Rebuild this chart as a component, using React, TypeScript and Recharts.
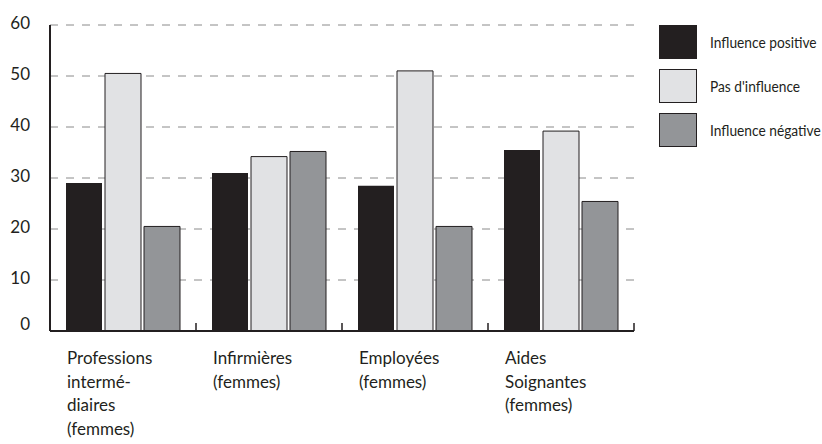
import React from 'react';
import { BarChart, Bar, XAxis, YAxis, CartesianGrid, Legend } from 'recharts';

const categories = [
  'Professions\nintermé-\ndiaires\n(femmes)',
  'Infirmières\n(femmes)',
  'Employées\n(femmes)',
  'Aides\nSoignantes\n(femmes)',
];
const influencePositive = [29, 31, 28.5, 35.5];
const pasInfluence = [50.5, 34.2, 51, 39.2];
const influenceNegative = [20.5, 35.2, 20.5, 25.4];
const yTicks = [0, 10, 20, 30, 40, 50, 60];
const seriesNames = ['Influence positive', "Pas d'influence", 'Influence négative'];
const seriesColors = ['#231f20', '#e1e2e4', '#939598'];

const data = categories.map((c, i) => ({
  cat: c,
  pos: influencePositive[i],
  pas: pasInfluence[i],
  neg: influenceNegative[i],
}));

const W = 822;
const H = 444;
const LEGEND_W = 165;
const PLOT_RIGHT = 188;
const M = { top: 25, right: PLOT_RIGHT - LEGEND_W, bottom: 3, left: 10 };
const Y_W = 40;
const X_H = 110;
const plotW = W - M.left - Y_W - PLOT_RIGHT;
const band = plotW / categories.length;
const FONT = "Lato, 'Open Sans', sans-serif";

const XTick = (props: any) => {
  const { x, y, payload } = props;
  const lines = String(payload.value).split('\n');
  const start = x - band / 2 + 17;
  const end = x + band / 2;
  return (
    <g>
      <line x1={end} y1={y - 8} x2={end} y2={y - 16} stroke="#231f20" strokeWidth={1.5} />
      <text x={start} y={y + 25} fontFamily={FONT} fontSize={17} fill="#231f20">
        {lines.map((l, i) => (
          <tspan key={i} x={start} dy={i === 0 ? 0 : 23.5}>
            {l}
          </tspan>
        ))}
      </text>
    </g>
  );
};

const YTick = (props: any) => {
  const { x, y, payload } = props;
  const shift = payload.value === 0 ? -8 : -3;
  return (
    <text x={x} y={y + shift} textAnchor="end" dominantBaseline="central" fontFamily={FONT} fontSize={17} fill="#231f20">
      {payload.value}
    </text>
  );
};

const renderLegend = () => (
  <svg width={LEGEND_W} height={130}>
    {seriesNames.map((n, i) => (
      <g key={n}>
        <rect
          x={0.5}
          y={0.5 + i * 44}
          width={37}
          height={33}
          fill={seriesColors[i]}
          stroke="#231f20"
          strokeWidth={1}
        />
        <g transform={`translate(51, ${17 + i * 44}) scale(0.86, 1)`}>
          <text x={0} y={0} dominantBaseline="central" fontFamily={FONT} fontSize={16} fill="#231f20">
            {n}
          </text>
        </g>
      </g>
    ))}
  </svg>
);

export default function App() {
  return (
    <div style={{ position: 'absolute', left: 0, top: 0, width: W, height: H, background: '#fff' }}>
      <BarChart width={W} height={H} data={data} margin={M} barSize={36} barGap={3}>
        <CartesianGrid vertical={false} stroke="#8a8a8a" strokeDasharray="8 8" />
        <XAxis
          dataKey="cat"
          height={X_H}
          interval={0}
          tick={<XTick />}
          tickLine={false}
          axisLine={{ stroke: '#231f20', strokeWidth: 2 }}
        />
        <YAxis
          width={Y_W}
          domain={[0, 60]}
          ticks={yTicks}
          tickLine={false}
          tickMargin={14}
          axisLine={{ stroke: '#231f20', strokeWidth: 2 }}
          tick={<YTick />}
        />
        <Legend
          content={renderLegend}
          layout="vertical"
          verticalAlign="top"
          align="right"
          wrapperStyle={{ left: 659, top: 25, width: LEGEND_W }}
        />
        <Bar dataKey="pos" name={seriesNames[0]} fill={seriesColors[0]} isAnimationActive={false} />
        <Bar dataKey="pas" name={seriesNames[1]} fill={seriesColors[1]} stroke="#231f20" strokeWidth={1} isAnimationActive={false} />
        <Bar dataKey="neg" name={seriesNames[2]} fill={seriesColors[2]} stroke="#231f20" strokeWidth={1} isAnimationActive={false} />
      </BarChart>
    </div>
  );
}
